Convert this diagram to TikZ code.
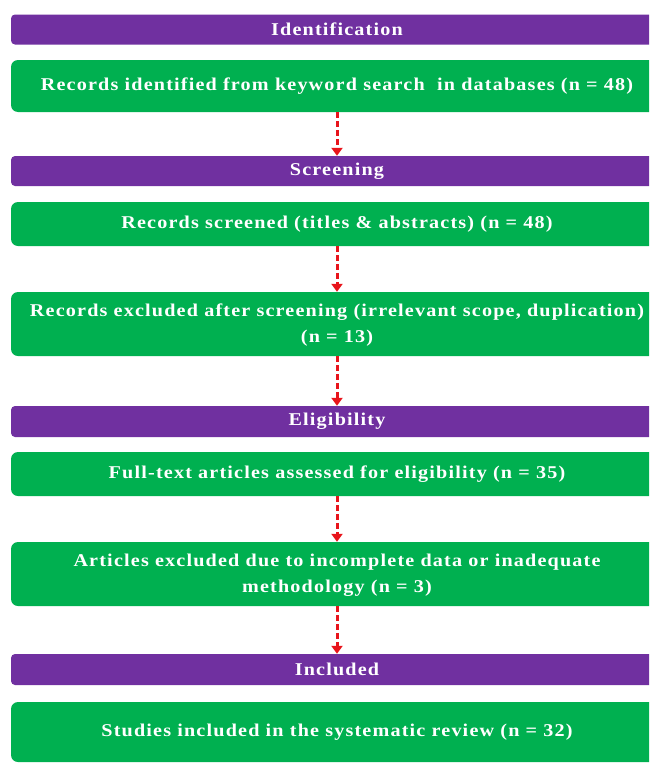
\documentclass[tikz,border=0pt]{standalone}
\usepackage{fontspec}
\setmainfont{Liberation Serif}[FakeStretch=1.12, LetterSpace=6.5]
\usetikzlibrary{arrows.meta}
\definecolor{phase}{HTML}{7030A0}
\definecolor{stepgreen}{HTML}{00B050}
\definecolor{arrowred}{HTML}{E8141B}
\newcommand{\twolines}[2]{\raisebox{-2pt}{\begin{tabular}{@{}c@{}}#1\\#2\end{tabular}}}
\begin{document}
\begin{tikzpicture}[x=1pt,y=-1pt,
  phasebar/.style={fill=phase, rounded corners=4pt, text=white, font=\fontsize{18}{25}\selectfont\bfseries, minimum width=652pt, inner sep=0pt, align=center},
  stepbox/.style={fill=stepgreen, rounded corners=7pt, text=white, font=\fontsize{18}{26}\selectfont\bfseries, minimum width=652pt, inner sep=0pt, align=center},
  flow/.style={draw=arrowred, line width=3pt, dash pattern=on 6pt off 3pt, -{Triangle[width=11pt,length=8pt]}}]
\clip (0,0) rectangle (649,763);
\fill[white] (0,0) rectangle (649,763);
\node[phasebar, minimum height=30pt] (p1) at (337,29.5) {Identification};
\node[stepbox, minimum height=52pt] (g1) at (337,86) {\raisebox{-2pt}{Records identified from keyword search~ in databases (n = 48)}};
\node[phasebar, minimum height=30pt] (p2) at (337,171) {Screening};
\node[stepbox, minimum height=44pt] (g2) at (337,224) {Records screened (titles \& abstracts) (n = 48)};
\node[stepbox, minimum height=64pt] (g3) at (337,324) {\twolines{Records excluded after screening (irrelevant scope, duplication)}{(n = 13)}};
\node[phasebar, minimum height=31pt] (p3) at (337,421.5) {Eligibility};
\node[stepbox, minimum height=44pt] (g4) at (337,474) {Full-text articles assessed for eligibility (n = 35)};
\node[stepbox, minimum height=64pt] (g5) at (337,574) {\twolines{Articles excluded due to incomplete data or inadequate}{methodology (n = 3)}};
\node[phasebar, minimum height=31pt] (p4) at (337,669.5) {Included};
\node[stepbox, minimum height=60pt] (g6) at (337,732) {\raisebox{-4pt}{Studies included in the systematic review (n = 32)}};
\draw[flow] (g1.south) -- (p2.north);
\draw[flow] (g2.south) -- (g3.north);
\draw[flow] (g3.south) -- (p3.north);
\draw[flow] (g4.south) -- (g5.north);
\draw[flow] (g5.south) -- (p4.north);
\end{tikzpicture}
\end{document}
